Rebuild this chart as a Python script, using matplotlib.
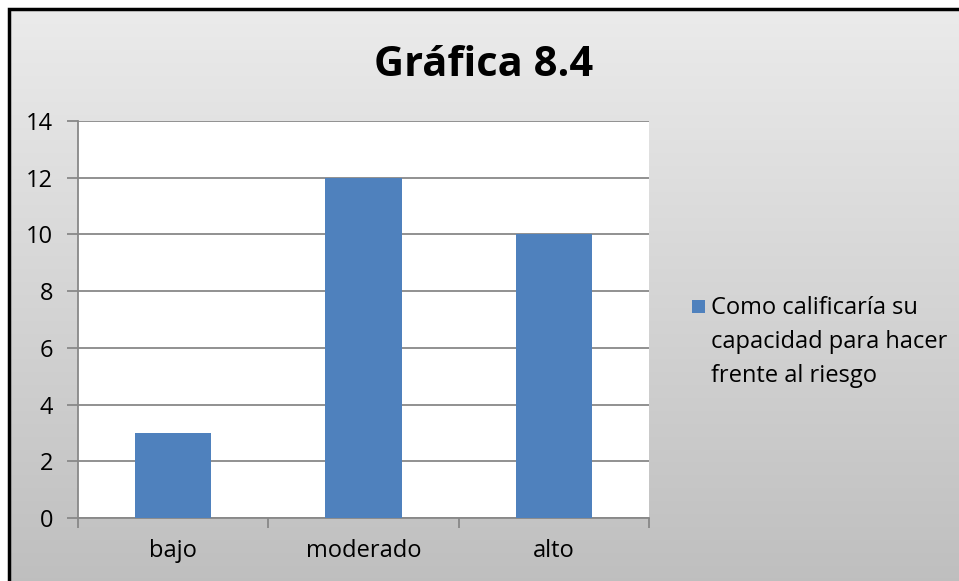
import numpy as np
import matplotlib
matplotlib.use('Agg')
import matplotlib.pyplot as plt
from matplotlib.patches import Rectangle
from matplotlib.lines import Line2D

categories = ['bajo', 'moderado', 'alto']
values = [3, 12, 10]
series_name = 'Como calificaría su\ncapacidad para hacer\nfrente al riesgo'
title = 'Gráfica 8.4'
bar_color = '#4f81bd'

plt.rcParams['font.family'] = ['Open Sans', 'DejaVu Sans']

W, H = 959, 581
fig = plt.figure(figsize=(W / 100, H / 100), dpi=100, facecolor='white')

# gradient background inside the chart frame
bx, by = 9, 9
bg = fig.add_axes([bx / W, 0, 1 - bx / W, 1 - by / H], zorder=-10)
grad = np.linspace(236, 190, 256).reshape(-1, 1) / 255.0
bg.imshow(np.dstack([grad, grad, grad]), aspect='auto', extent=[-0.1, 1.1, -0.02, 1.02],
          interpolation='bilinear')
bg.set_xlim(0, 1)
bg.set_ylim(0, 1)
bg.axis('off')
# frame: only left and top edges are visible in the picture
fig.lines.append(Line2D([bx / W, bx / W, 1.0], [0.0, 1 - by / H, 1 - by / H],
                        transform=fig.transFigure, color='black', linewidth=2.5,
                        solid_capstyle='butt', solid_joinstyle='miter', zorder=5))

x0, x1, y0, y1 = 78, 649, 121, 518
ax = fig.add_axes([x0 / W, 1 - y1 / H, (x1 - x0) / W, (y1 - y0) / H])
ax.set_facecolor('white')
pos = np.arange(len(categories))
ax.bar(pos, values, width=0.4, color=bar_color, zorder=3)
ax.set_xlim(-0.5, len(categories) - 0.5)
ax.set_ylim(0, 14)
ax.set_yticks(np.arange(0, 15, 2))
ax.grid(axis='y', color='#888888', linewidth=1.3, zorder=0)
ax.set_xticks(pos)
ax.set_xticklabels(categories, fontsize=17)
ax.set_xticks(np.arange(-0.5, len(categories)), minor=True)
ax.tick_params(axis='x', which='major', length=0, pad=15)
ax.tick_params(axis='x', which='minor', length=7, color='#888888', width=1.3)
ax.tick_params(axis='y', length=8, color='#888888', width=1.3, labelsize=17, pad=10)
for s in ['top', 'right']:
    ax.spines[s].set_visible(False)
for s in ['left', 'bottom']:
    ax.spines[s].set_color('#888888')
    ax.spines[s].set_linewidth(1.3)

fig.text(484 / W, 1 - 66 / H, title, fontsize=30, fontweight='bold', ha='center', va='center')

# legend
fig.patches.append(Rectangle((692 / W, 1 - 313 / H), 13 / W, 13 / H, transform=fig.transFigure,
                             facecolor=bar_color, edgecolor='none'))
fig.text(711 / W, 1 - 296 / H, series_name, fontsize=17, ha='left', va='top', linespacing=1.55)

fig.savefig('out.png', dpi=100)
